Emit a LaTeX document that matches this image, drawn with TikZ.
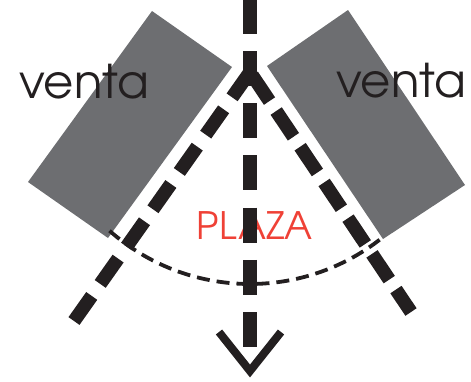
\documentclass[tikz,border=0pt]{standalone}
\usepackage{fontspec}
\newfontfamily\adv{texgyreadventor-regular.otf}
\definecolor{ink}{HTML}{231F20}
\definecolor{blockgray}{HTML}{6D6E71}
\definecolor{plazared}{HTML}{EF4136}
\begin{document}
\begin{tikzpicture}[x=1pt,y=-1pt,
  block/.style={fill=blockgray,draw=none},
  lbl/.style={text=ink,font=\adv\fontsize{46.5}{50}\selectfont,inner sep=0pt,anchor=base},
  axis/.style={draw=ink,line width=14.5pt,line cap=butt,dash pattern=on 35pt off 17.2pt},
  ray/.style={draw=ink,line width=13.5pt,line cap=butt},
  edge/.style={draw=ink,line width=3.8pt,line cap=butt,dash pattern=on 13pt off 7pt},
  head/.style={draw=ink,line width=8pt,line cap=butt,line join=miter}]
\useasboundingbox (0,0) rectangle (471,381);
% blocks
\fill[block] (152,11) -- (232,67) -- (108,238) -- (28,182) -- cycle;
\fill[block] (267,66) -- (348,10) -- (465,185) -- (383,239) -- cycle;
% labels
\node[lbl] (vl) at (84,98) {venta};
\node[lbl] (vr) at (401,97) {venta};
\node[lbl,text=plazared,font=\adv\fontsize{37.8}{40}\selectfont] (plaza) at (254.5,239.5) {PLAZA};
% key points
\coordinate (apex) at (250,72);
\coordinate (lend) at (74,321);
\coordinate (rend) at (411,312);
\coordinate (top) at (250,-1.2);
\coordinate (axend) at (250,348);
\coordinate (tip) at (250,371);
\coordinate (hl) at (219,332);
\coordinate (hr) at (281,332);
% arc
\draw[edge] (apex) ++(131.5:212) arc[start angle=131.5,end angle=50.5,radius=212];
% rays
\draw[ray,dash pattern=on 31pt off 14.7pt] (apex) -- (lend);
\draw[ray,dash pattern=on 31pt off 12pt,dash phase=39pt] (apex) -- (rend);
% axis
\draw[axis] (top) -- (axend);
% arrow head
\draw[head] (hl) -- (tip) -- (hr);
\end{tikzpicture}
\end{document}
